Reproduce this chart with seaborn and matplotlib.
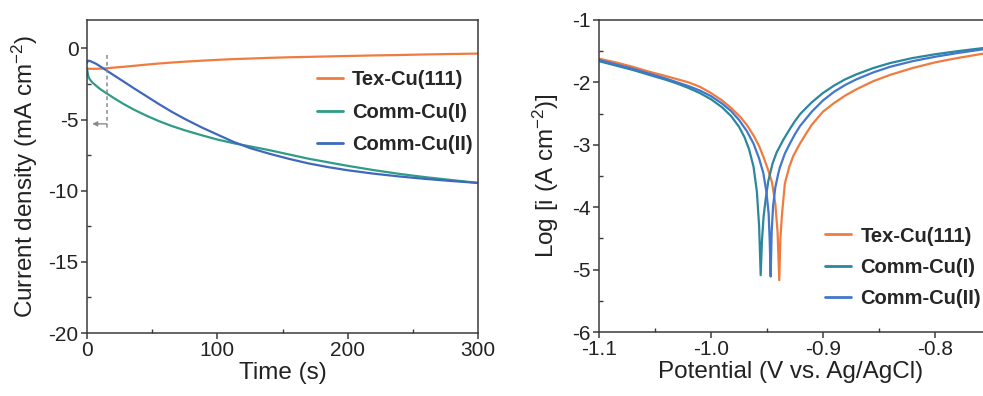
import numpy as np
import pandas as pd
import matplotlib
matplotlib.use("Agg")
import matplotlib.pyplot as plt
from matplotlib.ticker import MultipleLocator, FormatStrFormatter
import seaborn as sns

# ---------------- data: chronoamperometry (left) ----------------
labels = ["Tex-Cu(111)", "Comm-Cu(I)", "Comm-Cu(II)"]
time_s = [0, 1, 2, 4, 7, 10, 15, 20, 28, 36, 45, 55, 65, 75, 88, 100, 112, 125, 140, 155,
          170, 185, 200, 220, 240, 260, 280, 300]
j_tex = [-1.40, -1.42, -1.43, -1.43, -1.43, -1.42, -1.39, -1.35, -1.29, -1.22, -1.14, -1.06,
         -0.99, -0.93, -0.86, -0.80, -0.75, -0.71, -0.66, -0.62, -0.59, -0.56, -0.53, -0.49,
         -0.46, -0.42, -0.39, -0.36]
j_comm1 = [-1.40, -1.95, -2.15, -2.38, -2.62, -2.85, -3.15, -3.45, -3.90, -4.30, -4.70, -5.10,
           -5.45, -5.75, -6.10, -6.40, -6.65, -6.88, -7.15, -7.45, -7.75, -8.00, -8.25, -8.55,
           -8.82, -9.05, -9.25, -9.45]
j_comm2 = [-1.00, -0.86, -0.87, -0.95, -1.08, -1.25, -1.55, -1.85, -2.32, -2.80, -3.32, -3.90,
           -4.45, -4.95, -5.55, -6.05, -6.55, -7.00, -7.40, -7.76, -8.08, -8.34, -8.56, -8.80,
           -9.00, -9.17, -9.32, -9.45]

# marker on the left panel (dashed guide + arrow)
guide_t = 15
guide_j = [-0.45, -5.6]
arrow_j = -5.3
arrow_t_end = 4

# ---------------- data: Tafel curves (right) ----------------
E_tex = [-1.100, -1.085, -1.070, -1.055, -1.040, -1.030, -1.020, -1.010, -1.000, -0.990,
         -0.982, -0.974, -0.968, -0.962, -0.957, -0.953, -0.949, -0.9455, -0.9425, -0.9405,
         -0.9390,
         -0.9380, -0.9365, -0.9340, -0.9300, -0.9265, -0.9205, -0.9150, -0.9100, -0.9000,
         -0.8900, -0.8800, -0.8700, -0.8550, -0.8400, -0.8200, -0.8000, -0.7800, -0.7570]
L_tex = [-1.62, -1.68, -1.75, -1.83, -1.90, -1.95, -2.00, -2.07, -2.17, -2.29,
         -2.41, -2.55, -2.68, -2.85, -3.02, -3.20, -3.40, -3.60, -3.95, -4.40,
         -5.17,
         -4.50, -4.10, -3.62, -3.35, -3.18, -2.98, -2.82, -2.68, -2.47,
         -2.33, -2.21, -2.11, -1.98, -1.88, -1.77, -1.68, -1.61, -1.54]

E_comm1 = [-1.100, -1.085, -1.070, -1.055, -1.040, -1.030, -1.020, -1.010, -1.000, -0.990,
           -0.982, -0.975, -0.970, -0.966, -0.962, -0.959, -0.957, -0.9556,
           -0.9545, -0.9530, -0.9510, -0.9488, -0.9450, -0.9413, -0.9354, -0.9300, -0.9250,
           -0.9200, -0.9100, -0.9000, -0.8900, -0.8800, -0.8700, -0.8550, -0.8400, -0.8200,
           -0.8000, -0.7800, -0.7570]
L_comm1 = [-1.66, -1.73, -1.80, -1.88, -1.96, -2.02, -2.09, -2.17, -2.27, -2.40,
           -2.54, -2.71, -2.88, -3.07, -3.35, -3.75, -4.30, -5.09,
           -4.55, -4.15, -3.85, -3.58, -3.30, -3.12, -2.92, -2.76, -2.62,
           -2.50, -2.32, -2.17, -2.05, -1.95, -1.87, -1.77, -1.69, -1.61,
           -1.55, -1.50, -1.45]

E_comm2 = [-1.100, -1.085, -1.070, -1.055, -1.040, -1.030, -1.020, -1.010, -1.000, -0.990,
           -0.982, -0.975, -0.968, -0.962, -0.957, -0.9533, -0.9505, -0.9485, -0.9475, -0.9467,
           -0.9458, -0.9445, -0.9425, -0.9400, -0.9384, -0.9340, -0.9295, -0.9250, -0.9205,
           -0.9100, -0.9000, -0.8900, -0.8800, -0.8700, -0.8550, -0.8400, -0.8200, -0.8000,
           -0.7800, -0.7570]
L_comm2 = [-1.64, -1.71, -1.78, -1.86, -1.94, -2.00, -2.06, -2.13, -2.22, -2.34,
           -2.46, -2.60, -2.78, -2.98, -3.22, -3.45, -3.75, -4.10, -4.55, -5.11,
           -4.40, -3.98, -3.68, -3.47, -3.36, -3.14, -2.98, -2.83, -2.70,
           -2.47, -2.29, -2.15, -2.04, -1.95, -1.84, -1.75, -1.66, -1.59,
           -1.53, -1.47]

left_colors = ["#F07B3F", "#2E9C86", "#3F68BD"]
right_colors = ["#F07B3F", "#2A879C", "#4277CC"]

# ---------------- style ----------------
sns.set_theme(style="ticks")
plt.rcParams["font.family"] = ["Liberation Sans", "DejaVu Sans"]
plt.rcParams["mathtext.default"] = "regular"
plt.rcParams["axes.unicode_minus"] = False
plt.rcParams["axes.edgecolor"] = "#3a3a3a"
plt.rcParams["axes.linewidth"] = 1.1

fig = plt.figure(figsize=(9.83, 3.96), dpi=100)
ax1 = fig.add_axes([0.0885, 0.159, 0.3978, 0.7905])
ax2 = fig.add_axes([0.6094, 0.1616, 0.3906, 0.7879])

# left panel
df_left = pd.DataFrame({
    "t": time_s * 3,
    "j": j_tex + j_comm1 + j_comm2,
    "sample": [labels[0]] * len(time_s) + [labels[1]] * len(time_s) + [labels[2]] * len(time_s),
})
sns.lineplot(data=df_left, x="t", y="j", hue="sample", hue_order=labels,
             palette=left_colors, estimator=None, sort=False, linewidth=1.6, ax=ax1)

ax1.plot([guide_t, guide_t], guide_j, color="#8a8a8a", linestyle=(0, (2.5, 2)), linewidth=1.1)
ax1.annotate("", xy=(arrow_t_end, arrow_j), xytext=(guide_t, arrow_j),
             arrowprops=dict(arrowstyle="-|>", color="#8a8a8a", lw=1.0,
                             mutation_scale=7, shrinkA=0, shrinkB=0))

ax1.set_xlim(0, 300)
ax1.set_ylim(-20, 2)
ax1.xaxis.set_major_locator(MultipleLocator(100))
ax1.xaxis.set_minor_locator(MultipleLocator(50))
ax1.yaxis.set_major_locator(MultipleLocator(5))
ax1.yaxis.set_minor_locator(MultipleLocator(2.5))
ax1.set_xlabel("Time (s)", fontsize=17.5, labelpad=1)
ax1.set_ylabel("Current density (mA cm$^{-2}$)", fontsize=17.5, labelpad=6)

ax1.legend(loc="upper left", bbox_to_anchor=(0.588, 0.84), frameon=False,
           borderaxespad=0, borderpad=0, handlelength=1.3, handletextpad=0.45,
           labelspacing=0.68, prop={"weight": "bold", "size": 14.5})

# right panel
df_right = pd.DataFrame({
    "E": E_tex + E_comm1 + E_comm2,
    "L": L_tex + L_comm1 + L_comm2,
    "sample": [labels[0]] * len(E_tex) + [labels[1]] * len(E_comm1) + [labels[2]] * len(E_comm2),
})
sns.lineplot(data=df_right, x="E", y="L", hue="sample", hue_order=labels,
             palette=right_colors, estimator=None, sort=False, linewidth=1.6, ax=ax2)

ax2.set_xlim(-1.1, -0.757)
ax2.set_ylim(-6, -1)
ax2.xaxis.set_major_locator(MultipleLocator(0.1))
ax2.xaxis.set_minor_locator(MultipleLocator(0.05))
ax2.xaxis.set_major_formatter(FormatStrFormatter("%.1f"))
ax2.yaxis.set_major_locator(MultipleLocator(1))
ax2.yaxis.set_minor_locator(MultipleLocator(0.5))
ax2.set_xlabel("Potential (V vs. Ag/AgCl)", fontsize=17.5, labelpad=1)
ax2.set_ylabel("Log [i (A cm$^{-2}$)]", fontsize=17.5, labelpad=8)
ax2.spines["right"].set_visible(False)

ax2.legend(loc="upper left", bbox_to_anchor=(0.589, 0.338), frameon=False,
           borderaxespad=0, borderpad=0, handlelength=1.3, handletextpad=0.45,
           labelspacing=0.6, prop={"weight": "bold", "size": 14.5})

for ax in (ax1, ax2):
    ax.tick_params(axis="both", which="major", direction="out", length=4, width=1.1,
                   labelsize=15, colors="#3a3a3a", labelcolor="#222222", pad=2)
    ax.tick_params(axis="both", which="minor", direction="in", length=3, width=1.0,
                   colors="#3a3a3a")
    ax.xaxis.label.set_color("#222222")
    ax.yaxis.label.set_color("#222222")
    for line in ax.get_legend().get_lines():
        line.set_linewidth(2.0)

fig.savefig("out.png", dpi=100)
